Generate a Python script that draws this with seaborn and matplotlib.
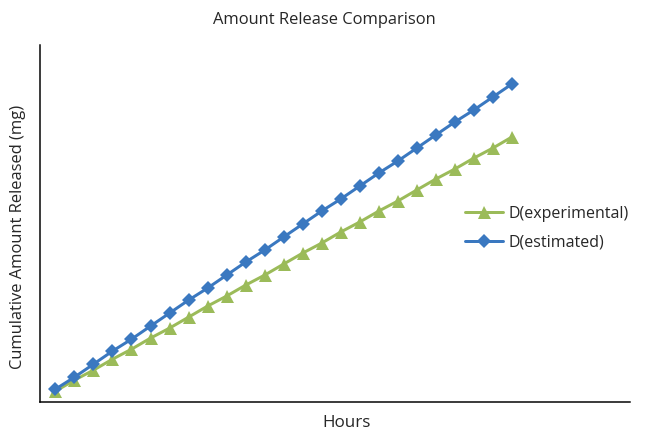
import seaborn as sns
import matplotlib.pyplot as plt
import pandas as pd

hours = list(range(25))
estimated = [1.09, 2.10, 3.19, 4.29, 5.29, 6.39, 7.48, 8.57, 9.58, 10.67, 11.76, 12.77, 13.87,
             14.96, 16.05, 17.06, 18.15, 19.24, 20.25, 21.34, 22.44, 23.53, 24.54, 25.63, 26.72]
experimental = [0.92, 1.85, 2.69, 3.61, 4.45, 5.38, 6.22, 7.14, 8.07, 8.91, 9.83, 10.67, 11.60,
                12.52, 13.36, 14.29, 15.13, 16.05, 16.89, 17.82, 18.74, 19.58, 20.50, 21.34, 22.27]

sns.set_style("white")
plt.rcParams['font.family'] = ['Open Sans', 'DejaVu Sans']

df = pd.DataFrame({'hours': hours, 'estimated': estimated, 'experimental': experimental})

fig = plt.figure(figsize=(9, 6), dpi=72)
ax = fig.add_axes([0.062, 0.069, 0.910, 0.827])

sns.lineplot(data=df, x='hours', y='experimental', ax=ax, color='#9BBB59', linewidth=3,
             marker='^', markersize=13, markeredgewidth=0, label='D(experimental)')
sns.lineplot(data=df, x='hours', y='estimated', ax=ax, color='#3A78C0', linewidth=3,
             marker='D', markersize=9.5, markeredgewidth=0, label='D(estimated)')

ax.set_xlim(-0.8, 30.2)
ax.set_ylim(0, 30)
ax.set_xticks([])
ax.set_yticks([])
for side in ['top', 'right']:
    ax.spines[side].set_visible(False)
for side in ['left', 'bottom']:
    ax.spines[side].set_color('black')
    ax.spines[side].set_linewidth(1.5)

ax.set_xlabel('Hours', fontsize=17)
ax.set_ylabel('Cumulative Amount Released (mg)', fontsize=16.5)
ax.xaxis.set_label_coords(0.519, -0.036)
ax.yaxis.set_label_coords(-0.024, 0.462)
fig.suptitle('Amount Release Comparison', fontsize=16.5, y=0.972)

ax.legend(loc='center left', bbox_to_anchor=(0.696, 0.487), frameon=False, fontsize=16,
          handlelength=2.4, handletextpad=0.35, labelspacing=0.78)

fig.savefig('out.png', dpi=72)
